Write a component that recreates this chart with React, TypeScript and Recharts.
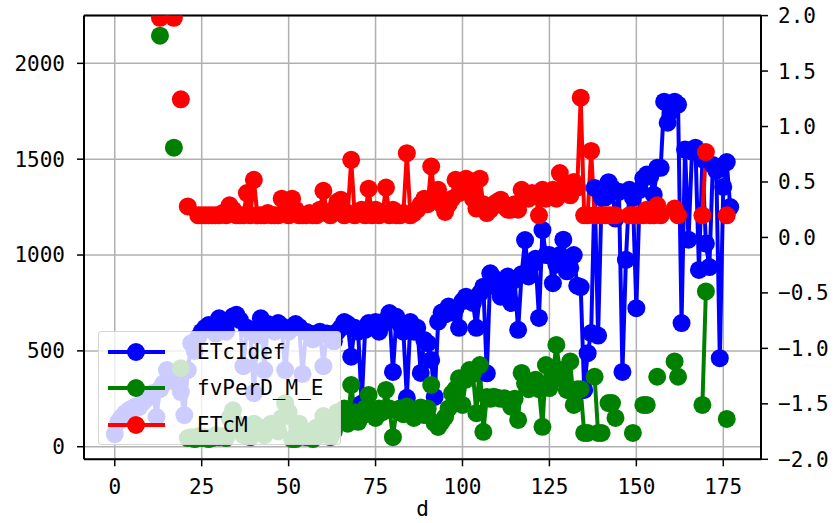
import React from "react";
import { CartesianGrid, LineChart, Line, ReferenceLine, XAxis, YAxis } from "recharts";

// values, one entry per day d = 0..177 (null = no value)
const etcIdef: (number | null)[] = [
  66, 130, 155, 175, 190, 200, 210, 207, 230, 250,
  265, 280, 155, 300, 330, 400, 350, 380, 330, 285,
  165, 400, 540, 500, 572, 600, 620, 635, 610, 590,
  670, 640, 600, 660, 680, 688, 660, 420, 620, 600,
  280, 580, 670, 400, 640, 620, 600, 645, 630, 400,
  600, 620, 640, 625, 380, 600, 590, 560, 580, 600,
  420, 590, 570, 550, 600, 620, 650, 640, 470, 620,
  600, 225, 610, 645, 630, 650, 600, 640, 660, 697,
  390, 678, 640, 600, 255, 650, 600, 620, 385, 557,
  540, 453, 260, 653, 700, 690, 731, 700, 720, 620,
  760, 783, 770, 750, 620, 800, 835, 383, 905, 880,
  830, 783, 850, 888, 750, 870, 610, 900, 1078, 888,
  950, 980, 672, 1130, 1000, 1000, 853, 950, 1000, 1080,
  915, 933, 1000, 840, 833, 296, 488, 593, 1350, 580,
  1300, 1300, 1380, 1350, 1190, 1330, 390, 975, 1340, 1300,
  723, 1340, 1400, 1420, 1410, 1315, 1455, 1455, 1800, 1690,
  1750, 1800, 1785, 645, 1550, 1080, 1540, 1560, 922, 1500,
  1060, 937, 1470, 1440, 462, 1355, 1485, 1250,
];

const fvPerD: (number | null)[] = [
  null, null, null, null, null, null, null, null, null, null,
  null, null, null, 2144, null, null, null, 1560, null, 410,
  null, 45, 50, 40, 55, 45, 50, 40, 45, 60,
  50, 55, 45, 150, 190, 120, 80, 60, 100, 50,
  120, 80, 100, 60, 90, 120, 100, 80, 150, 227,
  180, 40, 40, 120, 90, 50, 80, 40, 100, 60,
  160, 120, 50, 80, 180, 150, 200, 120, 322, 180,
  130, 160, 200, 270, 190, 150, 200, 180, 296, 200,
  50, 190, 200, 170, 210, 200, 150, 190, 205, 165,
  200, 322, 123, 103, 130, 155, 200, 278, 300, 357,
  218, 350, 400, 380, 175, 426, 78, 260, 250, 261,
  255, 250, 253, 240, 209, 250, 140, 385, 330, 300,
  322, 350, 300, 104, 426, 306, 380, 531, 400, 350,
  296, 445, 218, 300, 300, 72, 72, null, 365, 72,
  72, null, 228, 228, 150, null, null, null, null, 72,
  null, null, 218, 218, null, null, 365, null, null, null,
  null, 445, 365, null, null, null, null, null, null, 218,
  810, null, null, null, null, null, 145, null,
];

const etcM: (number | null)[] = [
  null, null, null, null, null, null, null, null, null, null,
  null, null, null, 1.98, null, null, null, 1.98, null, 1.245,
  null, 0.28, null, null, 0.2, 0.2, 0.2, 0.2, 0.2, 0.2,
  0.2, 0.22, 0.2, 0.29, 0.25, 0.2, 0.2, 0.2, 0.4, 0.2,
  0.52, 0.2, 0.2, 0.2, 0.22, 0.2, 0.2, 0.2, 0.35, 0.22,
  0.2, 0.35, 0.25, 0.2, 0.2, 0.2, 0.22, 0.2, 0.2, 0.25,
  0.42, 0.22, 0.2, 0.25, 0.32, 0.34, 0.2, 0.22, 0.7, 0.2,
  0.22, 0.25, 0.2, 0.44, 0.2, 0.25, 0.2, 0.22, 0.45, 0.2,
  0.25, 0.2, 0.2, 0.22, 0.76, 0.2, 0.22, 0.25, 0.3, 0.35,
  0.3, 0.64, 0.35, 0.43, 0.3, 0.23, 0.3, 0.35, 0.52, 0.4,
  0.5, 0.53, 0.45, 0.35, 0.26, 0.53, 0.3, 0.22, 0.25, 0.3,
  0.32, 0.34, 0.28, 0.25, 0.25, 0.3, 0.25, 0.43, 0.38, 0.35,
  0.4, 0.38, 0.2, 0.43, 0.35, 0.4, 0.43, 0.35, 0.58, 0.4,
  0.45, 0.38, 0.5, 0.45, 1.26, 0.2, 0.2, 0.78, 0.2, 0.2,
  0.2, 0.2, 0.2, 0.2, 0.2, null, null, null, 0.2, 0.2,
  0.2, 0.2, 0.2, 0.25, 0.2, 0.2, 0.29, 0.2, null, null,
  null, 0.26, 0.2, null, null, null, null, null, null, 0.2,
  0.77, null, null, null, null, null, 0.2, null,
];

const xTicks = [0, 25, 50, 75, 100, 125, 150, 175];
const leftTicks = [0, 500, 1000, 1500, 2000];
const rightTicks = [-2, -1.5, -1, -0.5, 0, 0.5, 1, 1.5, 2];

const series = [
  { key: "ETcIdef", color: "#0000ff", axis: "left" },
  { key: "fvPerD_M_E", color: "#008000", axis: "left" },
  { key: "ETcM", color: "#ff0000", axis: "right" },
];

const rows = etcIdef.map((v, i) => ({
  d: i,
  ETcIdef: v,
  fvPerD_M_E: fvPerD[i],
  ETcM: etcM[i],
}));

const FONT = "'DejaVu Sans Mono', 'Liberation Mono', monospace";
const tickStyle = { fontSize: 21, fill: "#000", fontFamily: FONT };
const fmtRight = (v: number) => (v < 0 ? "\u2212" : "") + Math.abs(v).toFixed(1);

function LegendBox() {
  return (
    <div
      style={{
        position: "absolute",
        left: 98,
        top: 331,
        width: 243,
        height: 114,
        boxSizing: "border-box",
        background: "rgba(255,255,255,0.8)",
        border: "1px solid rgba(204,204,204,0.8)",
        borderRadius: 4,
      }}
    >
      {series.map((s, i) => (
        <div
          key={s.key}
          style={{
            position: "absolute",
            left: 0,
            top: 9 + i * 36.3,
            height: 22,
            width: 243,
          }}
        >
          <svg width={60} height={22} style={{ position: "absolute", left: 8, top: 0 }}>
            <line x1={1} y1={11} x2={58} y2={11} stroke={s.color} strokeWidth={4} />
            <circle cx={29} cy={11} r={9} fill={s.color} />
          </svg>
          <span
            style={{
              position: "absolute",
              left: 98,
              top: 0,
              lineHeight: "22px",
              fontSize: 21,
              fontFamily: FONT,
              color: "#000",
              whiteSpace: "nowrap",
            }}
          >
            {s.key}
          </span>
        </div>
      ))}
    </div>
  );
}

export default function App() {
  return (
    <div
      style={{
        position: "fixed",
        left: 0,
        top: 0,
        width: 838,
        height: 523,
        overflow: "hidden",
        background: "#fff",
      }}
    >
      <LineChart
        width={838}
        height={523}
        data={rows}
        margin={{ top: 15.6, right: 0, bottom: 0, left: 0 }}
      >
        <CartesianGrid yAxisId="left" stroke="#b0b0b0" strokeWidth={1.5} />
        <XAxis
          dataKey="d"
          type="number"
          domain={[-8.85, 185.85]}
          ticks={xTicks}
          allowDataOverflow
          height={63.7}
          tickSize={7}
          tickMargin={13}
          tick={tickStyle}
          axisLine={{ stroke: "#000", strokeWidth: 2 }}
          tickLine={{ stroke: "#000", strokeWidth: 1.5 }}
          label={{ value: "d", position: "insideBottom", offset: 7, style: tickStyle }}
        />
        <YAxis
          yAxisId="left"
          orientation="left"
          width={84}
          domain={[-65.6, 2249]}
          ticks={leftTicks}
          allowDataOverflow
          tickSize={7}
          tickMargin={12}
          tick={tickStyle}
          axisLine={{ stroke: "#000", strokeWidth: 2 }}
          tickLine={{ stroke: "#000", strokeWidth: 1.5 }}
        />
        <YAxis
          yAxisId="right"
          orientation="right"
          width={77}
          domain={[-2, 2]}
          ticks={rightTicks}
          allowDataOverflow
          tickSize={7}
          tickMargin={10}
          tick={tickStyle}
          tickFormatter={fmtRight}
          axisLine={{ stroke: "#000", strokeWidth: 2 }}
          tickLine={{ stroke: "#000", strokeWidth: 1.5 }}
        />
        <ReferenceLine yAxisId="right" y={2} stroke="#000" strokeWidth={2} />
        {series.map((s) => (
          <Line
            key={s.key}
            yAxisId={s.axis}
            dataKey={s.key}
            type="linear"
            stroke={s.color}
            strokeWidth={4}
            dot={{ r: 9, fill: s.color, stroke: "none" }}
            activeDot={false}
            isAnimationActive={false}
          />
        ))}
      </LineChart>
      <LegendBox />
    </div>
  );
}
